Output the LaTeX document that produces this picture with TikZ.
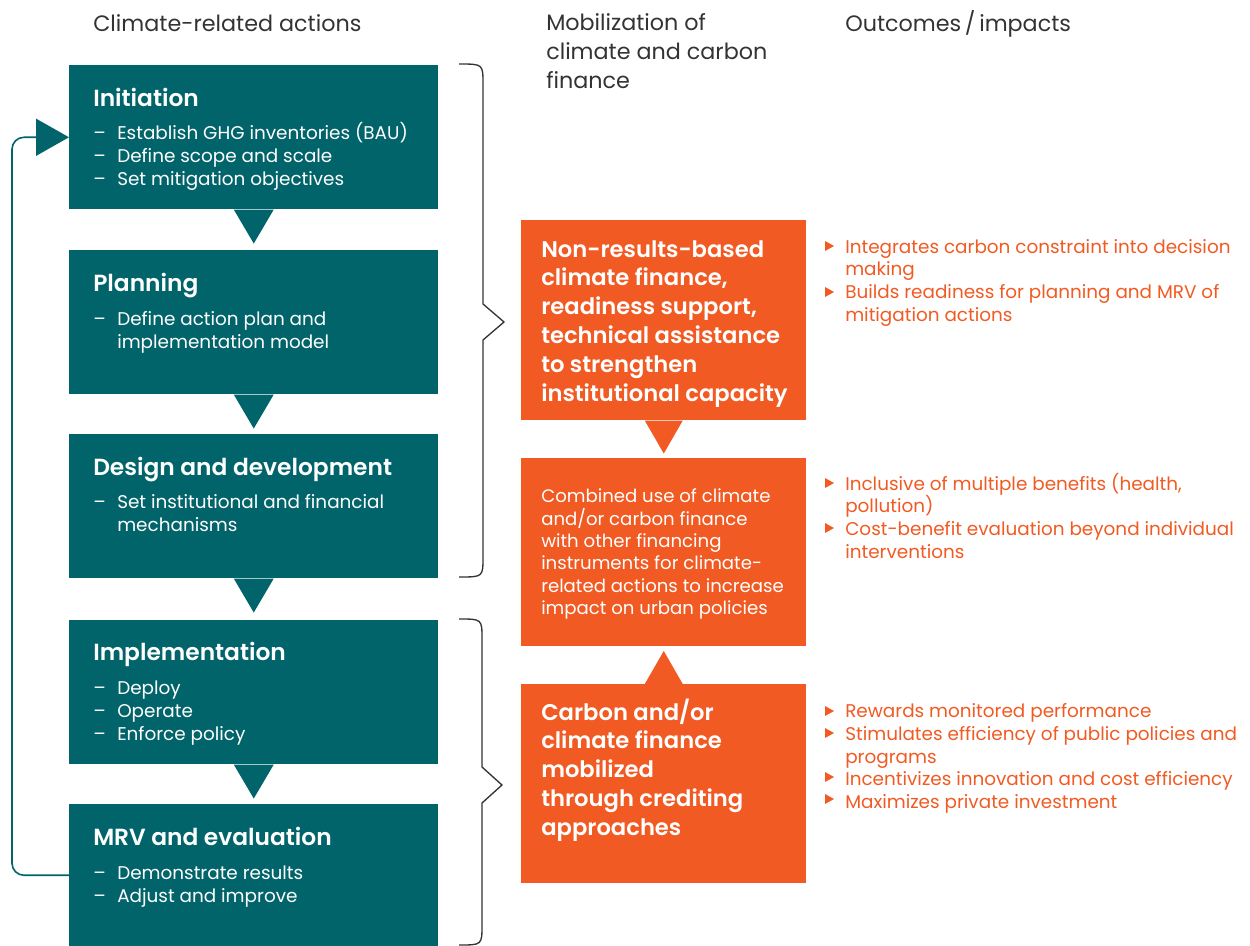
\documentclass[tikz,border=0pt]{standalone}
\usepackage{fontspec}
\setmainfont{Poppins}[BoldFont={Poppins SemiBold}]
\usetikzlibrary{arrows.meta,calc}
\definecolor{tealc}{HTML}{00646A}
\definecolor{orangec}{HTML}{F15A22}
\definecolor{headc}{HTML}{333333}
\newcommand\dsh{\makebox[18pt][l]{–}}
\newcommand\ind{\hspace*{18pt}}
\tikzset{
  tbox/.style={fill=tealc, anchor=north west, inner sep=0pt, minimum width=276.75pt, minimum height=108pt},
  obox/.style={fill=orangec, anchor=north west, inner sep=0pt, minimum width=213.75pt},
  head/.style={anchor=base west, inner sep=0pt, align=left, text=headc, font=\fontsize{16.7}{21.4}\selectfont},
  ttl/.style={anchor=base west, inner sep=0pt, text=white, font=\fontsize{17.5}{20}\selectfont\bfseries},
  tlist/.style={anchor=base west, inner sep=0pt, align=left, text=white, font=\fontsize{13.8}{17}\selectfont},
  obig/.style={anchor=base west, inner sep=0pt, align=left, text=white, font=\fontsize{17}{21.6}\selectfont\bfseries},
  osmall/.style={anchor=base west, inner sep=0pt, align=left, text=white, font=\fontsize{13.6}{16.7}\selectfont},
  outc/.style={anchor=base west, inner sep=0pt, align=left, text=orangec, font=\fontsize{13.8}{17}\selectfont},
  brace/.style={draw=headc, line width=1pt},
}
\newcommand\obul[1]{\fill[orangec] (825,#1-5) -- (834,#1) -- (825,#1+5) -- cycle;}
\begin{document}
\begin{tikzpicture}[x=0.75pt,y=-0.75pt]
\useasboundingbox (0,0) rectangle (1250,946);
% headers (multi-line nodes: base = last line)
\node[head] (h1) at (93,31) {Climate-related actions};
\node[head] (h2) at (546,88) {Mobilization of\\climate and carbon\\finance};
\node[head] (h3) at (845,31) {Outcomes\,/\,impacts};
% teal boxes
\node[tbox] (init) at (69,65) {};
\node[tbox] (plan) at (69,250) {};
\node[tbox] (des) at (69,434) {};
\node[tbox] (impl) at (69,620) {};
\node[tbox, minimum height=106.5pt] (mrv) at (69,804) {};
% teal pointers
\foreach \b in {init,plan,des,impl}{
  \fill[tealc] ($(\b.south)+(-20,0)$) -- ($(\b.south)+(20,0)$) -- ($(\b.south)+(0,34)$) -- cycle;
}
% teal texts
\node[ttl] (t1) at (93,106) {Initiation};
\node[tlist] (l1) at (93,185) {\dsh Establish GHG inventories (BAU)\\\dsh Define scope and scale\\\dsh Set mitigation objectives};
\node[ttl] (t2) at (93,291) {Planning};
\node[tlist] (l2) at (93,348) {\dsh Define action plan and\\\ind implementation model};
\node[ttl] (t3) at (93,475) {Design and development};
\node[tlist] (l3) at (93,531) {\dsh Set institutional and financial\\\ind mechanisms};
\node[ttl] (t4) at (93,660) {Implementation};
\node[tlist] (l4) at (93,740) {\dsh Deploy\\\dsh Operate\\\dsh Enforce policy};
\node[ttl] (t5) at (93,845) {MRV and evaluation};
\node[tlist] (l5) at (93,902) {\dsh Demonstrate results\\\dsh Adjust and improve};
% loop arrow
\draw[tealc, line width=1.2pt, rounded corners=9pt, -{Triangle[length=24.75pt,width=27.75pt]}] (mrv.west) -- ++(-57,0) |- (init.west);
% braces
\draw[brace] (459,64) .. controls (483,64) .. (483,84) -- (483,304) -- (504,322) -- (483,340) -- (483,557) .. controls (483,577) .. (459,577);
\draw[brace] (459,619) .. controls (482,619) .. (482,639) -- (482,767) -- (502,785) -- (482,803) -- (482,925) .. controls (482,945) .. (459,945);
% orange boxes
\node[obox, minimum height=150pt] (o1) at (521,220) {};
\node[obox, minimum height=141pt] (o2) at (521,458) {};
\node[obox, minimum height=149.25pt] (o3) at (521,684) {};
\fill[orangec] ($(o1.south)+(-19,0)$) -- ($(o1.south)+(19,0)$) -- ($(o1.south)+(0,33)$) -- cycle;
\fill[orangec] ($(o3.north)+(-19,0)$) -- ($(o3.north)+(19,0)$) -- ($(o3.north)+(0,-33)$) -- cycle;
\node[obig] (ot1) at (541,401) {Non-results-based\\climate finance,\\readiness support,\\technical assistance\\to strengthen\\institutional capacity};
\node[osmall] (ot2) at (541,614.3) {Combined use of climate\\and/or carbon finance\\with other financing\\instruments for climate-\\related actions to increase\\impact on urban policies};
\node[obig] (ot3) at (541,835.2) {Carbon and/or\\climate finance\\mobilized\\through crediting\\approaches};
% outcomes
\node[outc] (oc1) at (845,321) {Integrates carbon constraint into decision\\making\\Builds readiness for planning and MRV of\\mitigation actions};
\node[outc] (oc2) at (845,558) {Inclusive of multiple benefits (health,\\pollution)\\Cost-benefit evaluation beyond individual\\interventions};
\node[outc] (oc3) at (845,808.5) {Rewards monitored performance\\Stimulates efficiency of public policies and\\programs\\Incentivizes innovation and cost efficiency\\Maximizes private investment};
\obul{246}\obul{292}
\obul{483}\obul{528}
\obul{711}\obul{733}\obul{777}\obul{799}
\end{tikzpicture}
\end{document}
